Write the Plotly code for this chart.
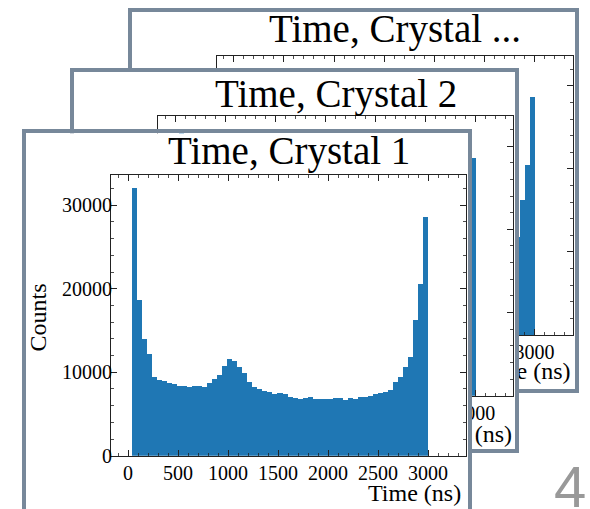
import plotly.graph_objects as go

W, H = 590, 509

# ---------------- data ----------------
counts = [32030, 18650, 13940, 12220, 9470, 9070, 8910, 8670, 8550, 8390,
          8350, 8270, 8350, 8350, 8230, 8750, 9150, 9670, 10750, 11550,
          11390, 10670, 9950, 8830, 8270, 7990, 7750, 7630, 7390, 7470,
          7350, 7070, 6950, 6830, 6950, 6990, 6750, 6830, 6830, 6830,
          6950, 6950, 6670, 6950, 6830, 6990, 7070, 7190, 7390, 7470,
          7590, 7870, 8830, 9390, 10670, 11790, 16260, 20530, 28630]
bin_start = 37.0
bin_width = (3003.0 - 37.0) / len(counts)
titles = ["Time, Crystal 1", "Time, Crystal 2", "Time, Crystal ..."]
x_label = "Time (ns)"
y_label = "Counts"
page_number = "4"

centers = [bin_start + bin_width * (i + 0.5) for i in range(len(counts))]

# ---------------- geometry (pixels) ----------------
BORDER = "#77889a"
SERIF = "Liberation Serif"
# cards listed back to front: (inner box L,R,T,B), (hist plot L,R,T,B)
cards = [
    dict(box=(132.3, 575.0, 11.7, 389.3), plot=(216.7, 572.7, 55.7, 335.0), title=titles[2],
         title_y=29.0, xlab=(570.5, 373.5), bottom=True),
    dict(box=(74.0, 515.0, 71.7, 449.3), plot=(158.3, 513.3, 116.0, 395.7), title=titles[1],
         title_y=94.0, xlab=(512.0, 436.5), bottom=True),
    dict(box=(26.0, 468.3, 133.3, 509.0), plot=(111.0, 466.0, 175.0, 455.7), title=titles[0],
         title_y=150.5, xlab=None, bottom=False),
]


def px(x):
    return x / W


def py(y):
    return 1 - y / H


fig = go.Figure()
layout = dict(
    template="none",
    width=W, height=H, margin=dict(l=0, r=0, t=0, b=0, pad=0), autosize=False,
    paper_bgcolor="white", plot_bgcolor="white", showlegend=False,
    bargap=0, annotations=[], hovermode=False,
)

axis_font = dict(family=SERIF, size=20, color="black")
n = 0
for ci, c in enumerate(cards):
    L, R, T, B = c["box"]
    # --- card box subplot ---
    n += 1
    xa, ya = ("x" if n == 1 else f"x{n}"), ("y" if n == 1 else f"y{n}")
    xk, yk = ("xaxis" if n == 1 else f"xaxis{n}"), ("yaxis" if n == 1 else f"yaxis{n}")
    layout[xk] = dict(domain=[px(L), px(R)], anchor=ya, range=[L, R], showgrid=False,
                      zeroline=False, showticklabels=False, ticks="", fixedrange=True,
                      automargin=False,
                      showline=True, linecolor=BORDER, linewidth=4,
                      mirror=True if c["bottom"] else False,
                      side="bottom" if c["bottom"] else "top")
    layout[yk] = dict(domain=[py(B), py(T)], anchor=xa, range=[B, T], showgrid=False,
                      zeroline=False, showticklabels=False, ticks="", fixedrange=True,
                      automargin=False,
                      showline=True, linecolor=BORDER, linewidth=4, mirror=True)
    if c["xlab"] is not None:
        fig.add_trace(go.Scatter(x=[c["xlab"][0]], y=[c["xlab"][1]], mode="text",
                                 text=[x_label], textposition="middle left",
                                 textfont=dict(family=SERIF, size=24, color="black"),
                                 xaxis=xa, yaxis=ya, hoverinfo="skip", cliponaxis=False))
    else:
        fig.add_trace(go.Scatter(x=[L + 5], y=[B - 5], mode="markers",
                                 marker=dict(opacity=0), xaxis=xa, yaxis=ya,
                                 hoverinfo="skip"))
    # --- histogram subplot ---
    pL, pR, pT, pB = c["plot"]
    n += 1
    xa, ya = f"x{n}", f"y{n}"
    xk, yk = f"xaxis{n}", f"yaxis{n}"
    common = dict(showgrid=False, zeroline=False, ticks="inside", ticklen=6, tickwidth=1,
                  tickcolor="#222222", mirror="allticks", showline=True, linecolor="#222222",
                  linewidth=1, tickformat="d", tickfont=axis_font, fixedrange=True,
                  automargin=False)
    layout[xk] = dict(domain=[px(pL), px(pR)], anchor=ya, range=[-170, 3380],
                      tick0=0, dtick=500, ticklabelstandoff=-1,
                      minor=dict(tick0=0, dtick=100, ticks="inside", ticklen=3,
                                 tickcolor="#222222", tickwidth=0.8, showgrid=False),
                      **common)
    layout[yk] = dict(domain=[py(pB), py(pT)], anchor=xa, range=[0, 33630],
                      tick0=0, dtick=10000, ticklabelstandoff=-6,
                      minor=dict(tick0=0, dtick=2000, ticks="inside", ticklen=3,
                                 tickcolor="#222222", tickwidth=0.8, showgrid=False),
                      **common)
    fig.add_trace(go.Bar(x=centers, y=counts, width=bin_width,
                         marker=dict(color="#1f77b4", line=dict(width=0)),
                         xaxis=xa, yaxis=ya, hoverinfo="skip"))
    # title annotation
    layout["annotations"].append(dict(
        x=px((pL + pR) / 2), y=py(c["title_y"]), xref="paper", yref="paper",
        text=c["title"], showarrow=False, xanchor="center", yanchor="middle",
        font=dict(family=SERIF, size=39, color="black")))

# front card axis labels
layout["annotations"].append(dict(
    x=px(463), y=py(492.5), xref="paper", yref="paper", text=x_label, showarrow=False,
    xanchor="right", yanchor="middle", font=dict(family=SERIF, size=24, color="black")))
layout["annotations"].append(dict(
    x=px(37.5), y=py(318), xref="paper", yref="paper", text=y_label, showarrow=False,
    textangle=-90, xanchor="center", yanchor="middle",
    font=dict(family=SERIF, size=24, color="black")))
layout["annotations"].append(dict(
    x=px(570), y=py(486.5), xref="paper", yref="paper", text=page_number, showarrow=False,
    xanchor="center", yanchor="middle", borderpad=0,
    font=dict(family="Liberation Sans", size=58, color="#999999")))

fig.update_layout(**layout)
fig.write_html(
    "out.html",
    config={"displayModeBar": False, "staticPlot": True},
    post_script="document.body.style.margin='0';document.body.style.padding='0';",
)
